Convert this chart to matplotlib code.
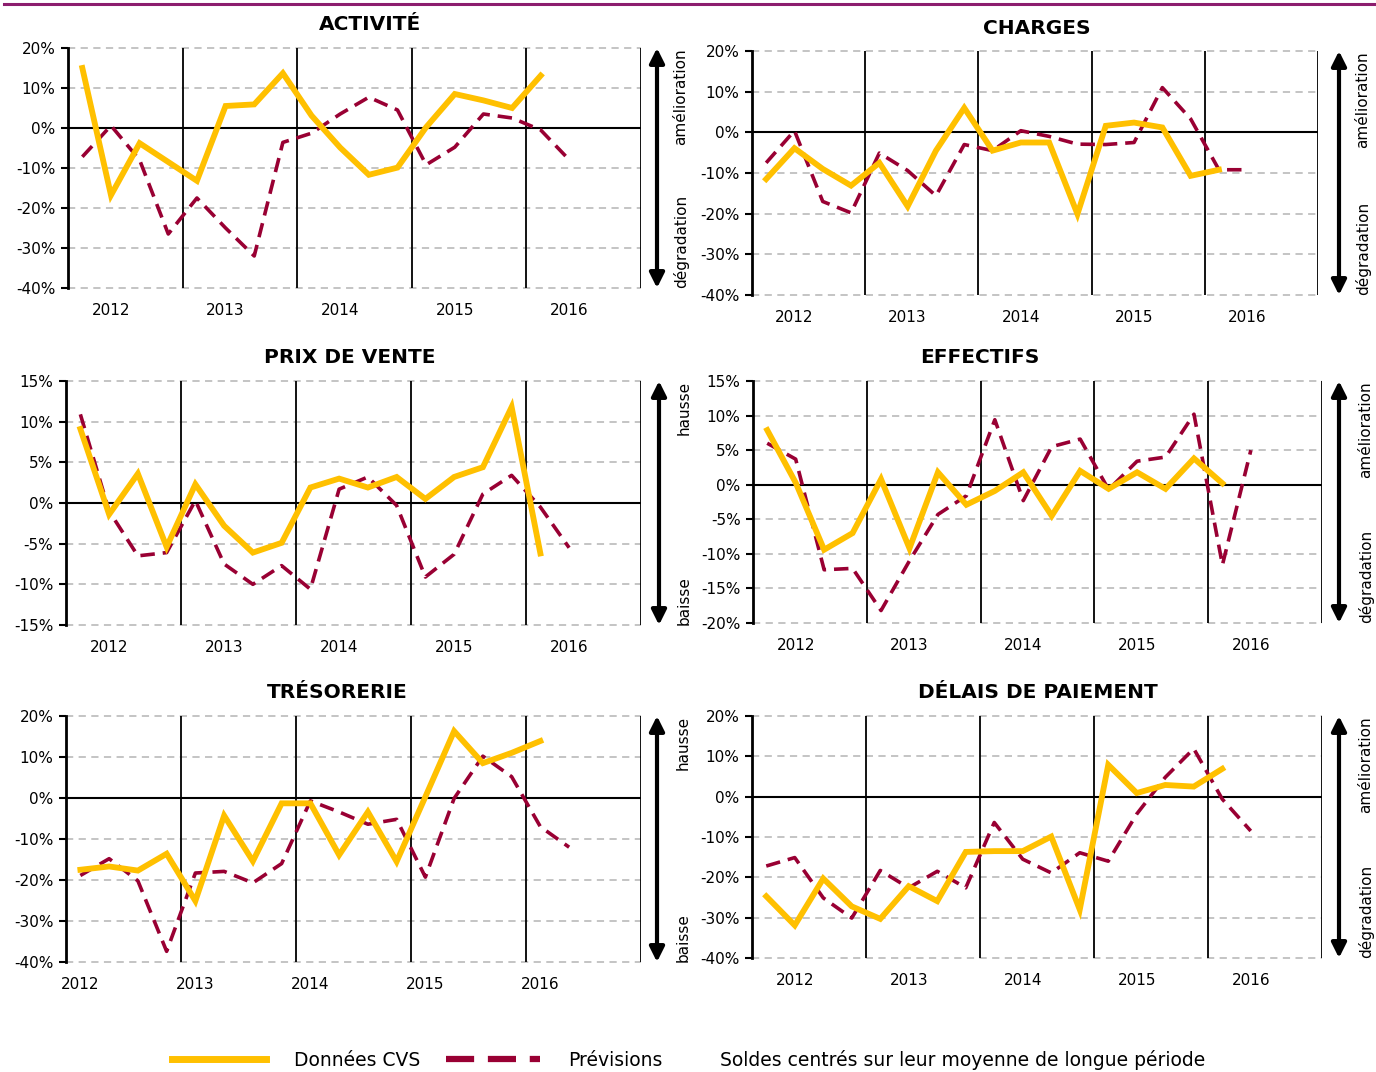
#!/usr/bin/env python3
# -*- coding: utf-8 -*-
"""
Six small panels of business survey balances (CVS data vs forecasts).
"""

import matplotlib
matplotlib.use('Agg')
import matplotlib.pyplot as plt
from matplotlib.lines import Line2D
from matplotlib.patches import FancyArrowPatch
import numpy

# quarterly values, starting Q1 2012
activite_cvs = [15, -16.8, -3.8, -8.5, -13.2, 5.5, 5.9, 13.7, 3.1, -4.9, -11.7, -9.9, 0.2, 8.5, 6.9, 5.0, 13.1]
activite_prev = [-7.2, 0.6, -8, -26.5, -17.5, -25, -32, -3.6, -1.3, 3.5, 7.7, 4.5, -9.2, -4.8, 3.5, 2.5, -0.5, -8]

charges_cvs = [-11.5, -3.9, -9, -13.1, -7.5, -18.2, -4.5, 6, -4.5, -2.5, -2.5, -20.1, 1.6, 2.4, 1.2, -10.7, -9.2]
charges_prev = [-7.5, 0.4, -17, -19.8, -5.1, -9.4, -15.6, -3, -4.5, 0.4, -1, -2.9, -3, -2.5, 11, 3.3, -9.2, -9.2]

prix_cvs = [9.1, -1.4, 3.6, -5.4, 2.3, -2.8, -6.1, -4.9, 1.9, 3.0, 1.9, 3.2, 0.5, 3.2, 4.4, 11.8, -6.2]
prix_prev = [10.9, -1, -6.5, -6.1, 0.3, -7.5, -10, -7.7, -10.6, 1.7, 3.2, -0.3, -9.1, -6.3, 1.1, 3.4, -0.5, -5.5]

effectifs_cvs = [7.9, 0.3, -9.4, -7.0, 0.8, -9.2, 1.8, -2.9, -0.9, 1.8, -4.5, 2.0, -0.6, 1.8, -0.6, 3.8, 0.2]
effectifs_prev = [6.0, 3.7, -12.3, -12.1, -18.2, -11, -4.3, -1.6, 9.4, -2.3, 5.5, 6.6, -0.7, 3.4, 4.0, 10.2, -11.6, 5.0]

tresorerie_cvs = [-17.5, -16.7, -17.7, -13.6, -25.1, -4.3, -15.4, -1.3, -1.3, -13.9, -3.4, -15.5, 0.3, 16.3, 8.5, 11, 13.9]
tresorerie_prev = [-18.9, -14.8, -20.2, -37.4, -18.3, -17.9, -20.7, -16, -0.7, -3.4, -6.4, -5.2, -19.3, -0.1, 10.2, 5.2, -7, -12]

delais_cvs = [-24.7, -31.9, -20.3, -27.2, -30.3, -22.2, -25.9, -13.7, -13.5, -13.5, -9.9, -28, 7.9, 0.9, 2.9, 2.5, 6.9]
delais_prev = [-17.2, -15.1, -25.1, -30.1, -18.3, -22.6, -18.5, -22.6, -6.4, -15.5, -18.9, -13.9, -16, -4.3, 4.8, 11.9, -0.6, -8.5]

years = ['2012', '2013', '2014', '2015', '2016']

YELLOW = '#FFC000'
DARKRED = '#990033'
GRID = '#BFBFBF'

W, H = 1376, 1072


def fx(x):
    return x / W


def fy(y):
    return 1 - y / H


# title, cvs, prev, y range, y step, up/down words, label offset (quarters),
# axes box in pixels (left, right, top, bottom), title x, arrow x, text x
panels = [
    ('ACTIVITÉ', activite_cvs, activite_prev, (-40, 20), 10, ('amélioration', 'dégradation'), 1.5,
     (68, 641, 48, 288), 370, 657, 681),
    ('CHARGES', charges_cvs, charges_prev, (-40, 20), 10, ('amélioration', 'dégradation'), 1.5,
     (752, 1318, 51, 295), 1037, 1339, 1363),
    ('PRIX DE VENTE', prix_cvs, prix_prev, (-15, 15), 5, ('hausse', 'baisse'), 1.5,
     (66, 641, 381, 625), 350, 659, 684),
    ('EFFECTIFS', effectifs_cvs, effectifs_prev, (-20, 15), 5, ('amélioration', 'dégradation'), 1.5,
     (753, 1322, 381, 623), 980, 1339, 1366),
    ('TRÉSORERIE', tresorerie_cvs, tresorerie_prev, (-40, 20), 10, ('hausse', 'baisse'), 0.5,
     (66, 641, 716, 962), 337, 657, 683),
    ('DÉLAIS DE PAIEMENT', delais_cvs, delais_prev, (-40, 20), 10, ('amélioration', 'dégradation'), 1.5,
     (752, 1322, 716, 958), 1038, 1339, 1366),
]

plt.rcParams['font.family'] = ['DejaVu Sans']

fig = plt.figure(figsize=(W / 100, H / 100), dpi=100)

# purple rule at the top of the page
fig.add_artist(Line2D([fx(4), fx(W)], [fy(3.5), fy(3.5)], color='#8C1D6E', lw=2.2))

for (title, cvs, prev, (ymin, ymax), ystep, words, lab_off,
     (xl, xr, yt, yb), title_x, arrow_x, text_x) in panels:
    ax = fig.add_axes([fx(xl), fy(yb), (xr - xl) / W, (yb - yt) / H])

    x_cvs = numpy.arange(len(cvs)) + 0.5
    x_prev = numpy.arange(len(prev)) + 0.5
    ax.plot(x_prev, prev, color=DARKRED, lw=2.6, dashes=(4, 2.2), zorder=4)
    ax.plot(x_cvs, cvs, color=YELLOW, lw=4.2, zorder=5, solid_joinstyle='miter')

    yticks = numpy.arange(ymin, ymax + ystep, ystep)
    for v in yticks:
        if v != 0:
            ax.axhline(v, color=GRID, lw=1.3, ls=(0, (4, 3)), zorder=1, clip_on=False)
    ax.axhline(0, color='black', lw=1.5, zorder=2)
    for v in [4, 8, 12, 16, 20]:
        ax.axvline(v, color='black', lw=1.3, zorder=2)

    ax.set_xlim(0, 20)
    ax.set_ylim(ymin, ymax)
    for side in ['top', 'right', 'bottom']:
        ax.spines[side].set_visible(False)
    ax.spines['left'].set_linewidth(2)

    ax.set_yticks(yticks)
    ax.set_yticklabels(['{:d}%'.format(int(v)) for v in yticks])
    ax.tick_params(axis='y', direction='out', length=5, width=1.5, labelsize=11, pad=4)
    ax.set_xticks(numpy.arange(len(years)) * 4 + lab_off)
    ax.set_xticklabels(years)
    ax.tick_params(axis='x', length=0, labelsize=11, pad=11)

    fig.text(fx(title_x), fy(yt - 23), title, ha='center', va='center',
             fontsize=14.5, fontweight='bold')

    arrow = FancyArrowPatch((fx(arrow_x), fy(yb)), (fx(arrow_x), fy(yt)),
                            transform=fig.transFigure, arrowstyle='<|-|>',
                            mutation_scale=22, lw=3, color='black',
                            shrinkA=0, shrinkB=0)
    fig.add_artist(arrow)
    fig.text(fx(text_x), fy(yt), words[0], rotation=90, ha='center', va='top', fontsize=11)
    fig.text(fx(text_x), fy(yb), words[1], rotation=90, ha='center', va='bottom', fontsize=11)

# legend at the bottom
handles = [Line2D([], [], color=YELLOW, lw=5),
           Line2D([], [], color=DARKRED, lw=4.5, dashes=(4.5, 2.2))]
fig.legend(handles=handles, labels=['Données CVS', 'Prévisions'],
           loc='center left', bbox_to_anchor=(fx(172), fy(1060)),
           ncol=2, frameon=False, fontsize=13.5, handlelength=5.0,
           handletextpad=1.5, columnspacing=1.4, borderpad=0, borderaxespad=0)
fig.text(fx(720), fy(1060), 'Soldes centrés sur leur moyenne de longue période',
         ha='left', va='center', fontsize=13.5)

plt.savefig('out.png', dpi=100)
